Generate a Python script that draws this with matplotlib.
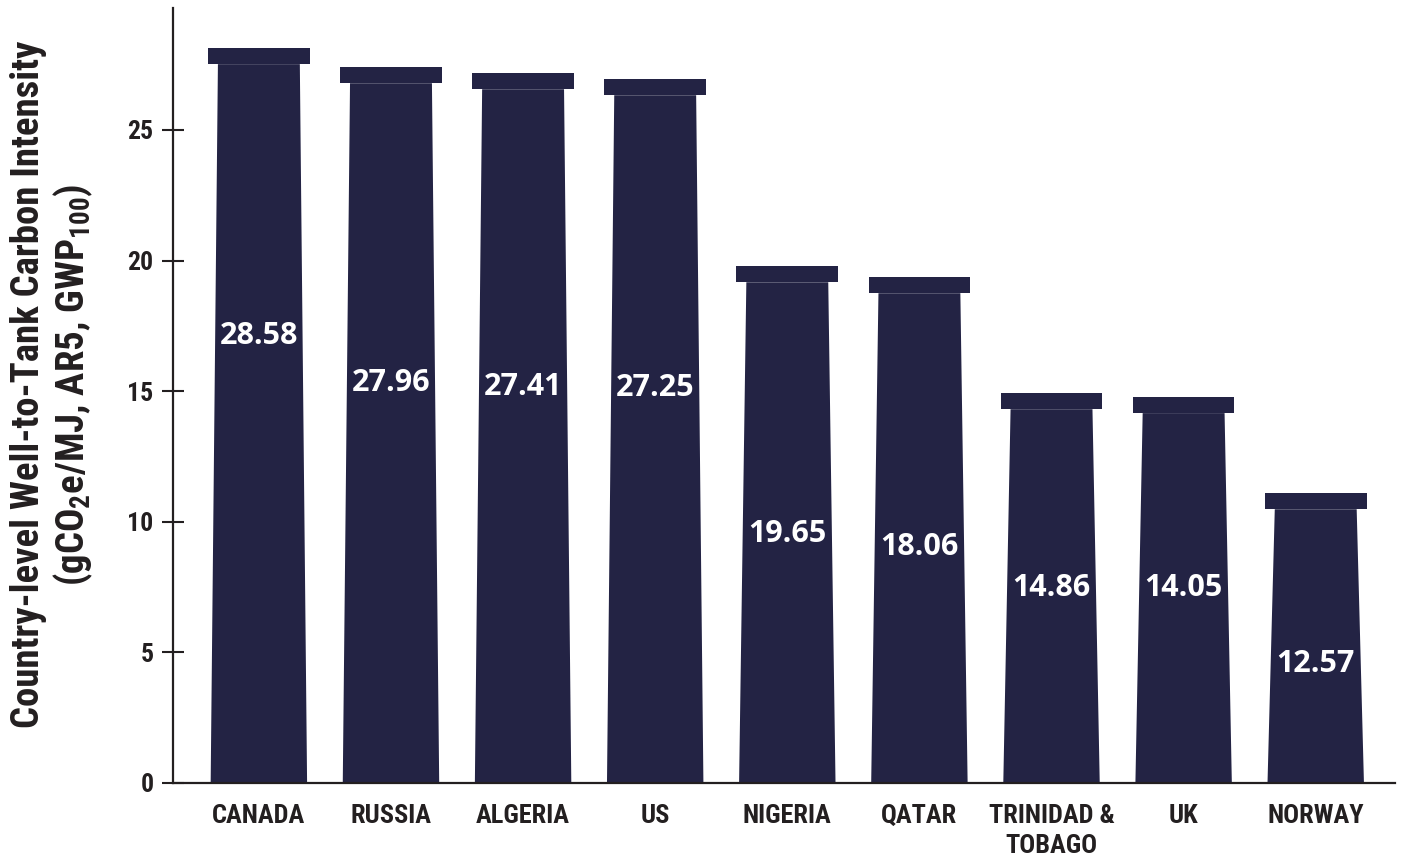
import matplotlib
matplotlib.use("Agg")
import matplotlib.pyplot as plt
from matplotlib.patches import Polygon, Rectangle
import matplotlib.font_manager as fm


def pick_condensed():
    prefs = ['Roboto Condensed', 'Open Sans Condensed', 'Liberation Sans Narrow',
             'Noto Sans Condensed', 'DejaVu Sans']
    best = None
    for f in fm.fontManager.ttflist:
        w = f.weight if isinstance(f.weight, int) else (700 if 'bold' in str(f.weight) else 400)
        if w < 600 or f.style != 'normal':
            continue
        fn = f.fname.lower()
        cond = ('condensed' in fn or 'narrow' in fn or 'condensed' in str(f.stretch))
        if not cond:
            continue
        if f.name in prefs:
            r = prefs.index(f.name)
            if best is None or r < best[0]:
                best = (r, f)
    if best is None:
        return 'Roboto', 'bold', 'normal'
    f = best[1]
    return f.name, f.weight, f.stretch


cname, cweight, cstretch = pick_condensed()
plt.rcParams['font.family'] = [cname, 'DejaVu Sans']
plt.rcParams['font.stretch'] = cstretch
plt.rcParams['mathtext.fontset'] = 'custom'
pat = f"{cname}:weight={cweight}:stretch={cstretch}"
plt.rcParams['mathtext.rm'] = pat
plt.rcParams['mathtext.bf'] = pat
plt.rcParams['mathtext.it'] = pat


def cfont(size):
    return fm.FontProperties(family=cname, weight=cweight, stretch=cstretch, size=size)


countries = ["CANADA", "RUSSIA", "ALGERIA", "US", "NIGERIA", "QATAR",
             "TRINIDAD &\nTOBAGO", "UK", "NORWAY"]
value_labels = [28.58, 27.96, 27.41, 27.25, 19.65, 18.06, 14.86, 14.05, 12.57]
bar_heights = [28.14, 27.41, 27.18, 26.95, 19.79, 19.37, 14.93, 14.78, 11.10]
label_y = [17.10, 15.33, 15.17, 15.13, 9.54, 9.04, 7.47, 7.47, 4.56]
yticks = [0, 5, 10, 15, 20, 25]

color = "#232344"
ink = "#231f20"
fig = plt.figure(figsize=(14.02, 8.59), dpi=100)
ax = fig.add_axes([0.1234, 0.0885, 0.8716, 0.9022])
ax.set_xlim(-0.65, 8.6)
ax.set_ylim(0, 29.67)

cap_h = 0.62
for i, (h, v, ly) in enumerate(zip(bar_heights, value_labels, label_y)):
    body = Polygon([(i - 0.365, 0), (i + 0.365, 0), (i + 0.31, h - cap_h),
                    (i - 0.31, h - cap_h)], closed=True, facecolor=color,
                   edgecolor='none', zorder=2)
    ax.add_patch(body)
    cap = Rectangle((i - 0.385, h - cap_h), 0.77, cap_h, facecolor=color,
                    edgecolor='none', zorder=2)
    ax.add_patch(cap)
    ax.text(i, ly, f"{v:.2f}", ha='center', va='center', color='white',
            fontsize=22, fontweight='bold', family=['Open Sans', 'DejaVu Sans'], zorder=3)

ax.set_xticks(range(len(countries)))
ax.set_xticklabels(countries, fontproperties=cfont(19), color=ink,
                   va='top', linespacing=1.3)
ax.tick_params(axis='x', length=0, pad=15)
ax.set_yticks(yticks)
ax.set_yticklabels([str(t) for t in yticks], fontproperties=cfont(18.5), color=ink)
ax.tick_params(axis='y', direction='inout', length=16, width=1.5,
               color=ink, pad=6)
for s in ['top', 'right']:
    ax.spines[s].set_visible(False)
for s in ['left', 'bottom']:
    ax.spines[s].set_linewidth(1.6)
    ax.spines[s].set_color(ink)

yl = ax.set_ylabel("Country-level Well-to-Tank Carbon Intensity\n(gCO$_2$e/MJ, AR5, GWP$_{100}$)",
                   fontproperties=cfont(24), color=ink, linespacing=1.15)
ax.yaxis.set_label_coords(-0.064, 0.514)
fig.canvas.draw()
bb = yl.get_window_extent()
if bb.height > 0:
    yl.set_fontsize(24 * 688.0 / bb.height)
ax.yaxis.set_label_coords(-0.064, 0.514)

fig.savefig("out.png", dpi=100)
